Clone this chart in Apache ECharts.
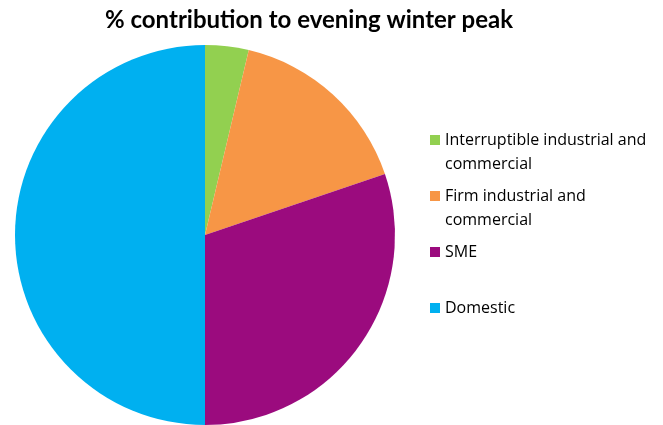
<!DOCTYPE html>
<html><head><meta charset="utf-8">
<script src="https://cdn.jsdelivr.net/npm/echarts@6/dist/echarts.min.js"></script>
<style>html,body{margin:0;padding:0;background:#fff}#c{width:663px;height:425px}</style>
</head><body><div id="c"></div>
<script>
const categories = ["Interruptible industrial and\ncommercial", "Firm industrial and\ncommercial", "SME", "Domestic"];
const values = [3.7, 16.1, 30.2, 50.0];
const colors = ["#92D050", "#F79646", "#9B0B7E", "#00B0F0"];
const titleText = "% contribution to evening winter peak";

const chart = echarts.init(document.getElementById('c'), null, {renderer: 'canvas'});
chart.setOption({
  animation: false,
  backgroundColor: '#fff',
  title: {
    text: titleText, left: 304, top: 3, textAlign: 'center',
    textStyle: {fontFamily: 'Lato', fontWeight: 'bold', fontSize: 24, color: '#000'}
  },
  legend: {
    orient: 'vertical', left: 425, top: 99,
    itemWidth: 10, itemHeight: 10, itemGap: -16,
    icon: 'rect',
    formatter: function (n) { return n.indexOf('\n') >= 0 ? '\n' + n : '\n' + n + '\n '; },
    textStyle: {fontFamily: 'Open Sans', fontSize: 16, color: '#000', lineHeight: 24},
    data: categories
  },
  series: [{
    type: 'pie', center: [205, 235], radius: 190, startAngle: 90, clockwise: true,
    label: {show: false}, labelLine: {show: false},
    emphasis: {disabled: true},
    itemStyle: {borderWidth: 0},
    data: categories.map((c, i) => ({name: c, value: values[i], itemStyle: {color: colors[i]}}))
  }]
});
</script></body></html>
